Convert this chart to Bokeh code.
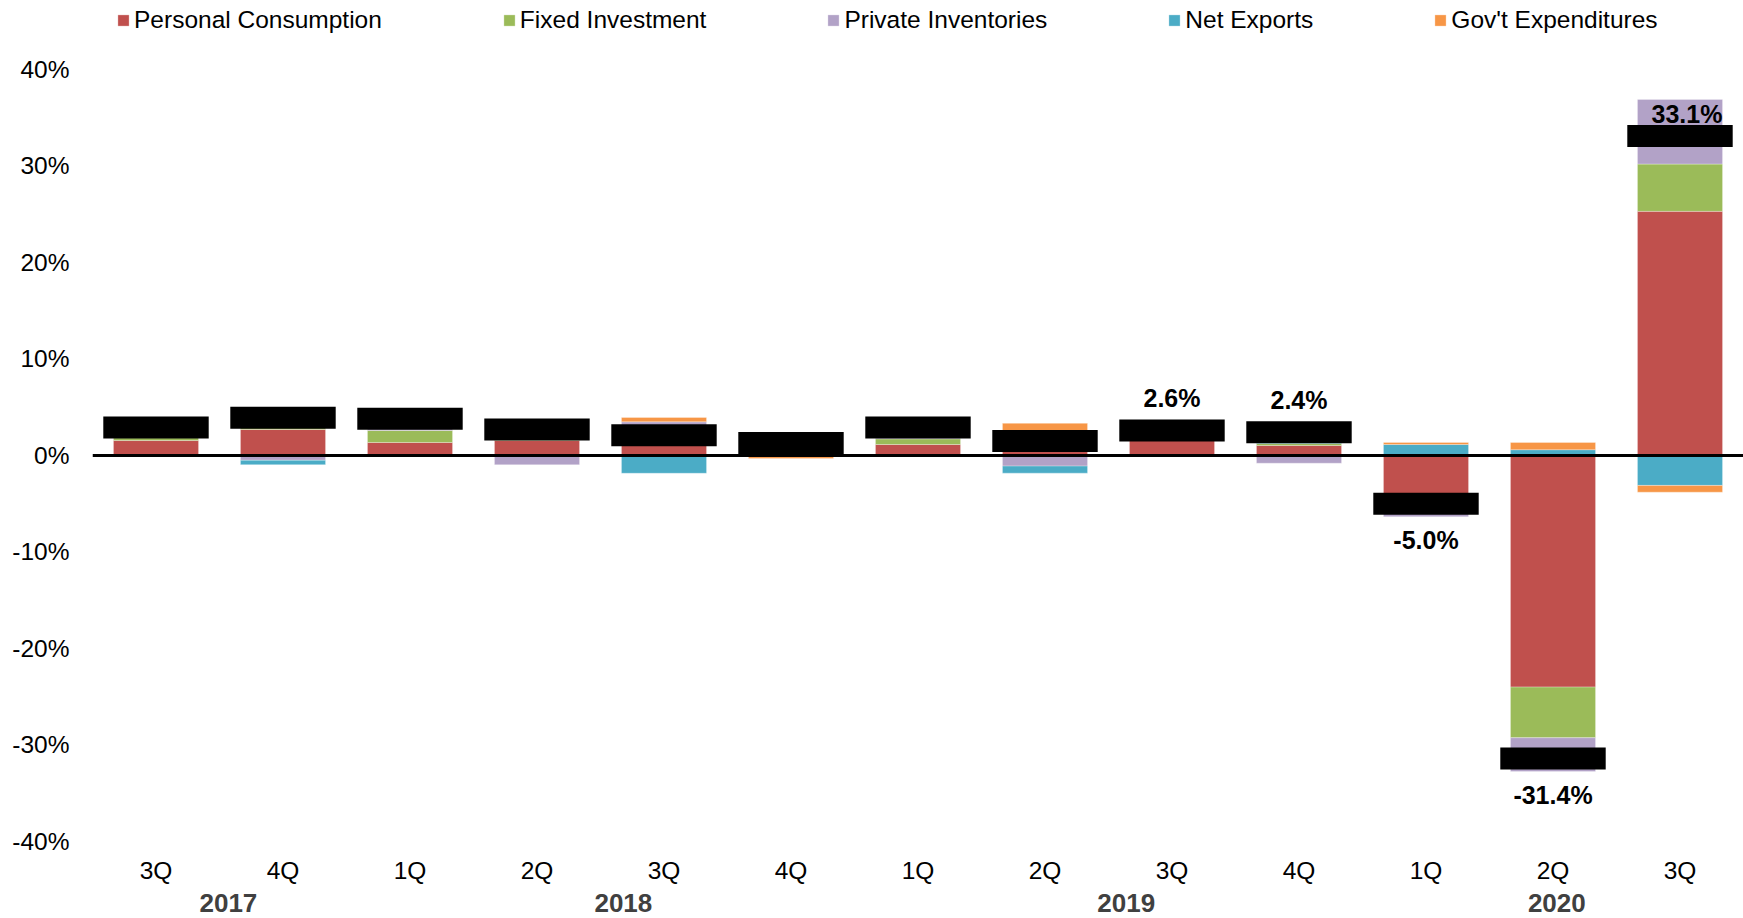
from bokeh.plotting import figure
from bokeh.models import Range1d, FixedTicker, Span, Legend, LegendItem, ColumnDataSource
from bokeh.core.properties import value
from bokeh.embed import file_html
from bokeh.resources import INLINE

# ---------------- data ----------------
quarters = ["3Q", "4Q", "1Q", "2Q", "3Q", "4Q", "1Q", "2Q", "3Q", "4Q", "1Q", "2Q", "3Q"]
years = ["2017", "2018", "2019", "2020"]
year_first_last = [(0, 1), (2, 5), (6, 9), (10, 12)]

consumption = [1.55, 2.70, 1.35, 1.55, 1.50, 0.95, 1.14, 2.40, 1.80, 1.04, -4.75, -24.00, 25.30]
fixed_investment = [0.30, 1.35, 1.25, 0.75, 0.20, 0.45, 0.59, 0.00, 0.15, 0.20, -1.05, -5.25, 4.90]
private_inventories = [0.80, -0.50, 0.40, -0.96, 1.79, 0.10, 0.50, -1.10, 0.00, -0.80, -0.55, -3.50, 6.70]
net_exports = [0.20, -0.45, 0.30, 0.95, -1.84, 0.10, 0.40, -0.73, 0.00, 1.50, 1.14, 0.60, -3.10]
govt_expenditures = [0.05, 0.80, 0.50, 0.41, 0.45, -0.30, 0.27, 0.93, 0.65, 0.46, 0.21, 0.75, -0.70]
gdp_growth = [2.9, 3.9, 3.8, 2.7, 2.1, 1.3, 2.9, 1.5, 2.6, 2.4, -5.0, -31.4, 33.1]
gdp_labelled = [False] * 8 + [True] * 5

series_names = ["Personal Consumption", "Fixed Investment", "Private Inventories",
                "Net Exports", "Gov't Expenditures"]
series_values = [consumption, fixed_investment, private_inventories, net_exports, govt_expenditures]
colors = ["#C0504D", "#9BBB59", "#B2A2C7", "#4BACC6", "#F79646"]

# ---------------- figure ----------------
FONT = "Liberation Sans"
W, H = 1743, 918
p = figure(width=W, height=H,
           x_range=Range1d(-0.5, 12.5), y_range=Range1d(-47.98, 47.15),
           output_backend="svg", toolbar_location=None,
           min_border_left=92, min_border_right=0, min_border_top=0, min_border_bottom=0)
p.outline_line_color = None
p.xgrid.visible = False
p.ygrid.visible = False
p.xaxis.visible = False
p.background_fill_color = "white"
p.border_fill_color = "white"

ticks = list(range(-40, 41, 10))
p.yaxis.ticker = FixedTicker(ticks=ticks)
p.yaxis.major_label_overrides = {t: f"{t}%" for t in ticks}
p.yaxis.axis_line_color = None
p.yaxis.major_tick_line_color = None
p.yaxis.minor_tick_line_color = None
p.yaxis.major_tick_out = 0
p.yaxis.major_tick_in = 0
p.yaxis.major_label_standoff = 23
p.yaxis.major_label_text_font = FONT
p.yaxis.major_label_text_font_size = "24.5px"
p.yaxis.major_label_text_color = "black"

# stacked bars (positives up, negatives down)
idx = list(range(len(quarters)))
pos = [0.0] * len(idx)
neg = [0.0] * len(idx)
renderers = []
for name, vals, col in zip(series_names, series_values, colors):
    bottoms, tops = [], []
    for i, v in enumerate(vals):
        if v >= 0:
            bottoms.append(pos[i]); tops.append(pos[i] + v); pos[i] += v
        else:
            bottoms.append(neg[i]); tops.append(neg[i] + v); neg[i] += v
    src = ColumnDataSource(dict(x=idx, bottom=bottoms, top=tops))
    r = p.vbar(x="x", bottom="bottom", top="top", width=0.67, source=src,
               fill_color=col, line_color="white", line_width=0.5, line_alpha=0.6)
    renderers.append(r)

# zero line
p.add_layout(Span(location=0, dimension="width", line_color="black", line_width=3))

# GDP total markers
p.rect(x=idx, y=gdp_growth, width=0.83, height=22, height_units="screen",
       fill_color="black", line_color=None)

# GDP labels
lab_x, lab_y, lab_t, lab_yoff, lab_xoff = [], [], [], [], []
top_val = max(gdp_growth)
for i, (g, show) in enumerate(zip(gdp_growth, gdp_labelled)):
    if not show:
        continue
    lab_x.append(i); lab_y.append(g); lab_t.append(f"{g:.1f}%")
    if g == top_val:
        lab_yoff.append(-22); lab_xoff.append(7)
    elif g > 0:
        lab_yoff.append(-32); lab_xoff.append(0)
    else:
        lab_yoff.append(36); lab_xoff.append(0)
p.text(x=lab_x, y=lab_y, text=lab_t, y_offset=lab_yoff, x_offset=lab_xoff,
       text_align="center", text_baseline="middle",
       text_font=value(FONT), text_font_style="bold", text_font_size="25px", text_color="black")

# quarter labels
p.text(x=idx, y=[-43.0] * len(idx), text=quarters, text_align="center", text_baseline="middle",
       text_font=value(FONT), text_font_size="24.5px", text_color="black")

# year labels
year_shift = [0.07, 0.18, 0.14, 0.03]
year_x = [(a + b) / 2 + s for (a, b), s in zip(year_first_last, year_shift)]
p.text(x=year_x, y=[-46.4] * len(years), text=years, text_align="center", text_baseline="middle",
       text_font=value(FONT), text_font_style="bold", text_font_size="26px", text_color="#404040")

# legend
items = [LegendItem(label=n, renderers=[r]) for n, r in zip(series_names, renderers)]
legend = Legend(items=items, orientation="horizontal", location=(24, 884),
                spacing=120, glyph_width=14, glyph_height=14, label_standoff=4,
                padding=0, margin=0, label_height=26,
                label_text_font=FONT, label_text_font_size="24.5px", label_text_color="black",
                border_line_color=None, background_fill_alpha=0)
p.add_layout(legend, "center")

open("out.html", "w").write(file_html(p, INLINE))
